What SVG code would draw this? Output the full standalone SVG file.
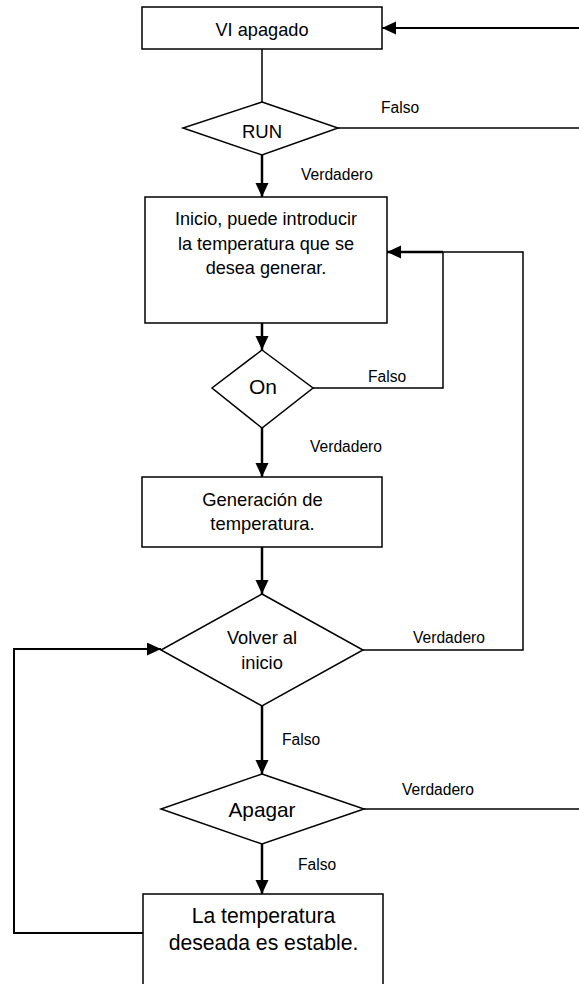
<svg xmlns="http://www.w3.org/2000/svg" width="579" height="984" viewBox="0 0 579 984">
<style>
.box{fill:#fff;stroke:#000;stroke-width:1.5}
.ln{fill:none;stroke:#000;stroke-width:1.5}
.ar{fill:none;stroke:#000;stroke-width:2.5}
.t{font-family:"Liberation Sans",Arial,sans-serif;fill:#000;text-anchor:middle}
.lb{font-family:"Liberation Sans",Arial,sans-serif;fill:#000;font-size:15.6px}
</style>
<defs>
<marker id="ah" markerUnits="userSpaceOnUse" markerWidth="15" markerHeight="14" refX="14" refY="6.5" orient="auto">
<path d="M0,0 L14,6.5 L0,13 z" fill="#000"/>
</marker>
</defs>
<rect width="579" height="984" fill="#fff"/>
<g id="connectors">
<line class="ln" x1="262" y1="49" x2="262" y2="102"/>
<line class="ln" x1="338" y1="128" x2="579" y2="128"/>
<line class="ar" style="stroke-width:1.8" x1="579" y1="28" x2="382" y2="28" marker-end="url(#ah)"/>
<line class="ar" x1="262" y1="155" x2="262" y2="197" marker-end="url(#ah)"/>
<line class="ar" x1="262" y1="323" x2="262" y2="350" marker-end="url(#ah)"/>
<polyline class="ln" points="313,388 443,388 443,252"/>
<polyline class="ln" points="363,650 523,650 523,252 443,252"/>
<line class="ar" x1="443" y1="252" x2="387" y2="252" marker-end="url(#ah)"/>
<line class="ar" x1="262" y1="428" x2="262" y2="477" marker-end="url(#ah)"/>
<line class="ar" x1="262" y1="547" x2="262" y2="594" marker-end="url(#ah)"/>
<line class="ar" x1="262" y1="706" x2="262" y2="774" marker-end="url(#ah)"/>
<line class="ln" x1="364" y1="809" x2="579" y2="809"/>
<line class="ar" x1="262" y1="844" x2="262" y2="894" marker-end="url(#ah)"/>
<polyline class="ar" style="stroke-width:2" points="143,933 14,933 14,649 161,649" marker-end="url(#ah)"/>
<text class="lb" x="381" y="113">Falso</text>
<text class="lb" x="301" y="180">Verdadero</text>
<text class="lb" x="368" y="382">Falso</text>
<text class="lb" x="310" y="452">Verdadero</text>
<text class="lb" x="413" y="643">Verdadero</text>
<text class="lb" x="282" y="745">Falso</text>
<text class="lb" x="402" y="795">Verdadero</text>
<text class="lb" x="298" y="870">Falso</text>
</g>
<g id="vi-apagado">
<rect class="box" x="142" y="7" width="240" height="42"/>
<text class="t" x="262" y="35.5" font-size="18.2">VI apagado</text>
</g>
<g id="run">
<polygon class="box" points="262,102 338,128 262,155 183,128"/>
<text class="t" x="262" y="138" font-size="18.5">RUN</text>
</g>
<g id="inicio">
<rect class="box" x="145" y="197" width="242" height="126"/>
<text class="t" x="266" y="225" font-size="18.1">Inicio, puede introducir</text>
<text class="t" x="266" y="249.5" font-size="18.1">la temperatura que se</text>
<text class="t" x="266" y="274" font-size="18.1">desea generar.</text>
</g>
<g id="on">
<polygon class="box" points="262,350 313,388 262,428 212,388"/>
<text class="t" x="263" y="393.5" font-size="21">On</text>
</g>
<g id="generacion">
<rect class="box" x="142" y="477" width="240" height="70"/>
<text class="t" x="262.5" y="506" font-size="18.4">Generación de</text>
<text class="t" x="262.5" y="530" font-size="18.4">temperatura.</text>
</g>
<g id="volver">
<polygon class="box" points="262,594 363,650 262,706 161,650"/>
<text class="t" x="262" y="644" font-size="18.3">Volver al</text>
<text class="t" x="262" y="669" font-size="18.3">inicio</text>
</g>
<g id="apagar">
<polygon class="box" points="262,774 364,809 262,844 161,809"/>
<text class="t" x="262" y="817" font-size="20.8">Apagar</text>
</g>
<g id="estable">
<rect class="box" x="143" y="894" width="240" height="100"/>
<text class="t" x="263.5" y="923" font-size="21.2">La temperatura</text>
<text class="t" x="263.5" y="950" font-size="21.2">deseada es estable.</text>
</g>
</svg>
